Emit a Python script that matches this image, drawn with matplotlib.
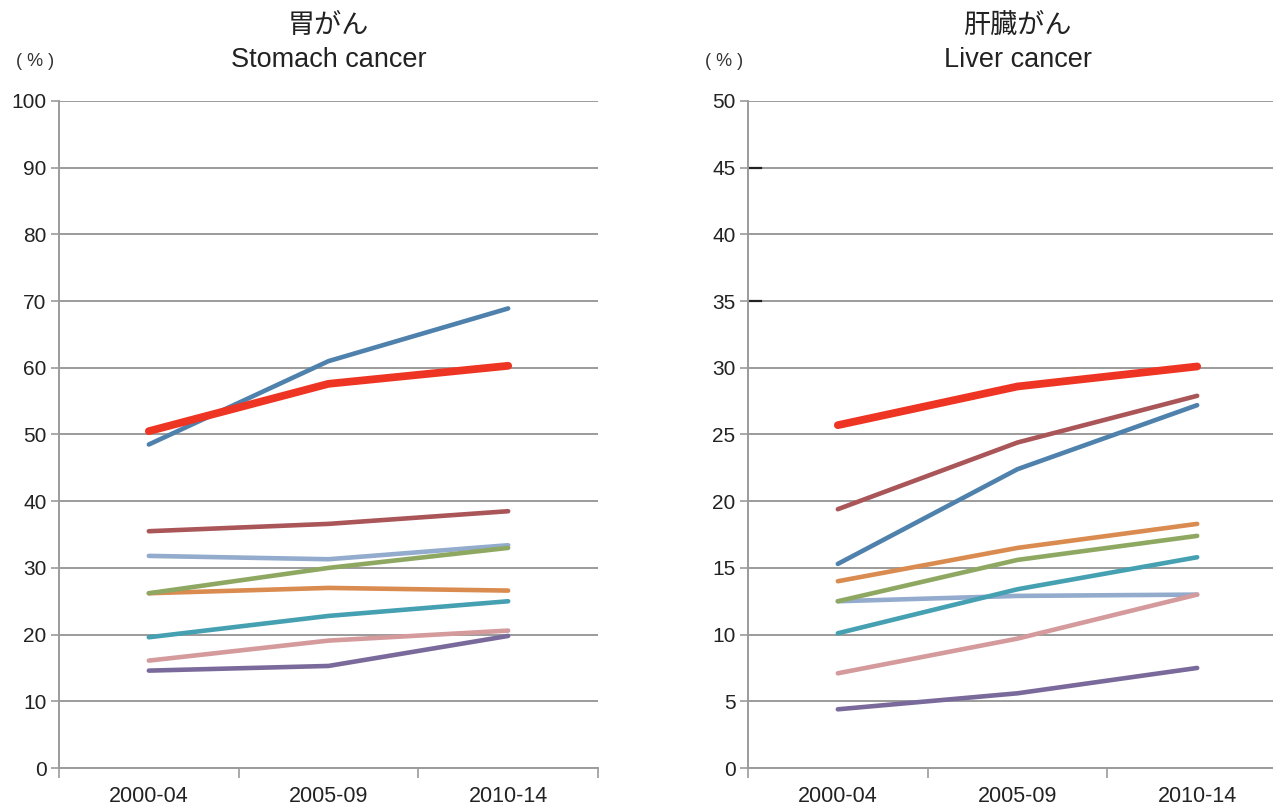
import matplotlib
matplotlib.use('Agg')
import matplotlib.pyplot as plt

plt.rcParams['font.family'] = ['Liberation Sans', 'Noto Sans CJK JP', 'DejaVu Sans']

periods = ['2000-04', '2005-09', '2010-14']

# series colours (same in both panels)
colors = {
    'blue': '#4f81ad',
    'red': '#ee3524',
    'darkred': '#aa5558',
    'lightblue': '#93abcc',
    'green': '#8ea862',
    'orange': '#da8b50',
    'teal': '#45a0b1',
    'pink': '#d49a9c',
    'purple': '#7a6a9b',
}

# stomach cancer 5-year survival (%)
stomach_blue = [48.5, 61.0, 68.9]
stomach_red = [50.5, 57.6, 60.3]
stomach_darkred = [35.5, 36.6, 38.5]
stomach_lightblue = [31.8, 31.3, 33.4]
stomach_green = [26.2, 30.0, 33.0]
stomach_orange = [26.2, 27.0, 26.6]
stomach_teal = [19.6, 22.8, 25.0]
stomach_pink = [16.1, 19.1, 20.6]
stomach_purple = [14.6, 15.3, 19.8]

# liver cancer 5-year survival (%)
liver_blue = [15.3, 22.4, 27.2]
liver_red = [25.7, 28.6, 30.1]
liver_darkred = [19.4, 24.4, 27.9]
liver_lightblue = [12.5, 12.9, 13.0]
liver_green = [12.5, 15.6, 17.4]
liver_orange = [14.0, 16.5, 18.3]
liver_teal = [10.1, 13.4, 15.8]
liver_pink = [7.1, 9.7, 13.0]
liver_purple = [4.4, 5.6, 7.5]

stomach = {'lightblue': stomach_lightblue, 'orange': stomach_orange, 'green': stomach_green,
           'teal': stomach_teal, 'pink': stomach_pink, 'purple': stomach_purple,
           'darkred': stomach_darkred, 'blue': stomach_blue, 'red': stomach_red}
liver = {'lightblue': liver_lightblue, 'orange': liver_orange, 'green': liver_green,
         'teal': liver_teal, 'pink': liver_pink, 'purple': liver_purple,
         'darkred': liver_darkred, 'blue': liver_blue, 'red': liver_red}

grey = '#9b9b9b'
txt = '#222222'

fig = plt.figure(figsize=(12.73, 8.07), dpi=100)
ax1 = fig.add_axes([59 / 1273, 1 - 768 / 807, 539 / 1273, 667 / 807])
ax2 = fig.add_axes([748 / 1273, 1 - 768 / 807, 539 / 1273, 667 / 807])


def style_axis(ax, ymax, step, title_jp, title_en):
    x = list(range(len(periods)))
    ax.set_xlim(-0.5, len(periods) - 0.5)
    ax.set_ylim(0, ymax)
    ax.set_yticks(range(0, ymax + 1, step))
    ax.yaxis.grid(True, color=grey, linewidth=1.4)
    ax.set_axisbelow(True)
    for s in ['top', 'right']:
        ax.spines[s].set_visible(False)
    for s in ['left', 'bottom']:
        ax.spines[s].set_color(grey)
        ax.spines[s].set_linewidth(1.4)
    ax.tick_params(axis='y', length=6, width=1.2, color=grey, labelsize=15, pad=3, labelcolor=txt)
    ax.set_xticks([i - 0.5 for i in range(len(periods) + 1)])
    ax.set_xticklabels([])
    ax.set_xticks(x, minor=True)
    ax.set_xticklabels(periods, minor=True)
    ax.tick_params(axis='x', which='major', length=7, width=1.2, color=grey)
    ax.tick_params(axis='x', which='minor', length=0, labelsize=15.5, pad=13, labelcolor=txt)
    ax.text(0.5, 1.113, title_jp, transform=ax.transAxes, ha='center', va='center', fontsize=19.5, color=txt)
    ax.text(0.5, 1.062, title_en, transform=ax.transAxes, ha='center', va='center', fontsize=19.5, color=txt)
    ax.text(-0.044, 1.059, '( % )', transform=ax.transAxes, ha='center', va='center', fontsize=13, color='#333333')


def draw(ax, data):
    x = list(range(len(periods)))
    for key, vals in data.items():
        lw = 5.6 if key == 'red' else 3.3
        ax.plot(x, vals, color=colors[key], linewidth=lw, solid_capstyle='round', solid_joinstyle='round', zorder=3)


style_axis(ax1, 100, 10, '胃がん', 'Stomach cancer')
draw(ax1, stomach)

style_axis(ax2, 50, 5, '肝臓がん', 'Liver cancer')
draw(ax2, liver)
# small dark tick marks seen on the liver panel
for yv in [45, 35]:
    ax2.axhline(yv, xmin=0, xmax=0.024, color='#222222', linewidth=1.6, zorder=2)

fig.savefig('out.png', dpi=100)
